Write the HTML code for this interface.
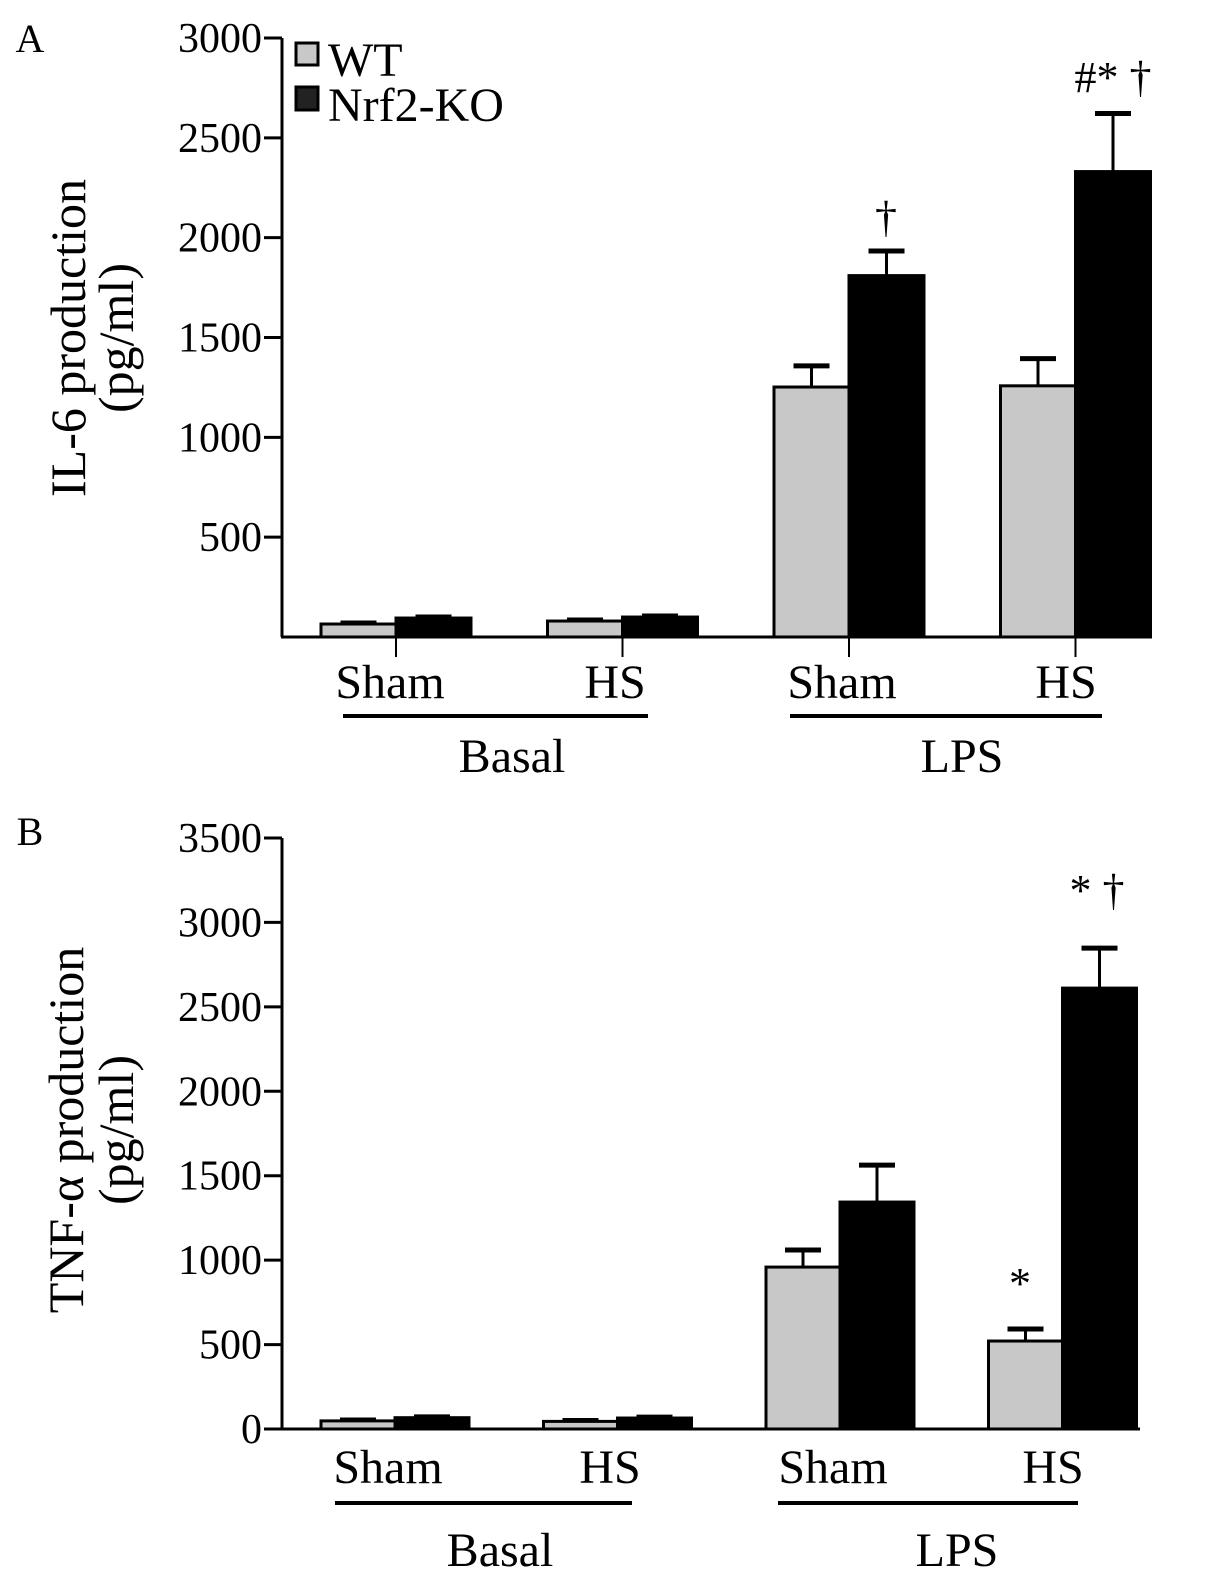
<!DOCTYPE html>
<html><head><meta charset="utf-8"><style>
body{margin:0;background:#fff;}
svg, svg text{font-family:"Liberation Serif","Times New Roman",Times,serif;}
svg text{fill:#000;}
</style></head><body>
<svg id="fig" width="1205" height="1572" viewBox="0 0 1205 1572" xmlns="http://www.w3.org/2000/svg" font-family="Liberation Serif, Times New Roman, serif">
<g id="A"></g>
<g id="B"></g>
</svg>
<script>
const groups = ["Basal Sham","Basal HS","LPS Sham","LPS HS"];
const ticksA = [500,1000,1500,2000,2500,3000];
const wtA = [65,80,1252,1258];
const wtErrA = [5,5,106,136];
const koA = [95,100,1810,2331];
const koErrA = [5,5,123,291];
const ticksB = [0,500,1000,1500,2000,2500,3000,3500];
const wtB = [48,45,959,521];
const wtErrB = [5,5,101,71];
const koB = [67,65,1344,2611];
const koErrB = [5,5,219,237];

const NS="http://www.w3.org/2000/svg";
function mk(parent,tag,attrs,txt){const e=document.createElementNS(NS,tag);for(const k in attrs)e.setAttribute(k,attrs[k]);if(tag==='text')e.setAttribute('font-family','Liberation Serif, Times New Roman, serif');if(txt!==undefined)e.textContent=txt;parent.appendChild(e);return e;}

function panel(g,cfg){
  const y=v=>cfg.y0-(v/cfg.ymax)*(cfg.y0-cfg.ytop);
  const ax=cfg.axisX;
  let e=mk(g,'line',{x1:ax,y1:cfg.ytop,x2:ax,y2:cfg.y0,stroke:'#000','stroke-width':3});
  
  
  e=mk(g,'line',{x1:ax-1,y1:cfg.y0,x2:cfg.xEnd,y2:cfg.y0,stroke:'#000','stroke-width':3});
  
  
  cfg.ticks.forEach(t=>{
    let l=mk(g,'line',{x1:ax-18,y1:y(t),x2:ax,y2:y(t),stroke:'#000','stroke-width':3});
    
    
    let tx=mk(g,'text',{x:ax-20,y:y(t)+14,'font-size':42,'text-anchor':'end'},String(t));
    
    
  });
  groups.forEach((gname,i)=>{
    const x0=cfg.gx0+i*cfg.gstep;
    const w=cfg.bw;
    [[cfg.wt,cfg.wtErr,'#c8c8c8',x0],[cfg.ko,cfg.koErr,'#000',x0+w]].forEach(([vals,errs,fill,bx],s)=>{
      const top=y(vals[i]);
      const cx=bx+w/2;
      let el=mk(g,'line',{x1:cx,y1:top,x2:cx,y2:y(vals[i]+errs[i]),stroke:'#000','stroke-width':3});
      
      
      el=mk(g,'line',{x1:cx-18,y1:y(vals[i]+errs[i]),x2:cx+18,y2:y(vals[i]+errs[i]),stroke:'#000','stroke-width':5});
      
      
      el=mk(g,'rect',{x:bx,y:top,width:w,height:cfg.y0-top,fill:fill,stroke:'#000','stroke-width':3});
      
      
    });
    if(cfg.xticks){
      let t=mk(g,'line',{x1:x0+w,y1:cfg.y0,x2:x0+w,y2:cfg.y0+20,stroke:'#000','stroke-width':2});
      
      
    }
  });
}

const A=document.getElementById('A'), B=document.getElementById('B');
panel(A,{y0:637,ytop:38,ymax:3000,axisX:282,xEnd:1152,ticks:ticksA,wt:wtA,wtErr:wtErrA,ko:koA,koErr:koErrA,gx0:321,gstep:226.5,bw:75,xticks:true});
panel(B,{y0:1429,ytop:838,ymax:3500,axisX:282,xEnd:1140,ticks:ticksB,wt:wtB,wtErr:wtErrB,ko:koB,koErr:koErrB,gx0:321,gstep:222.5,bw:74,xticks:false});

function T(g,x,y,s,txt,name,extra){const e=mk(g,'text',Object.assign({x:x,y:y,'font-size':s,'text-anchor':'middle'},extra||{}),txt);return e;}
function L(g,x1,x2,y,name){const e=mk(g,'line',{x1:x1,y1:y,x2:x2,y2:y,stroke:'#000','stroke-width':4});}

T(A,30,52,40,'A','panel-label-a');
T(B,30,845,40,'B','panel-label-b');
let r=mk(A,'rect',{x:296,y:43,width:22,height:22,fill:'#c8c8c8',stroke:'#000','stroke-width':3});


r=mk(A,'rect',{x:296,y:87,width:22,height:23,fill:'#222',stroke:'#000','stroke-width':3});


T(A,328,76,48,'WT','legend-entry-wt',{'text-anchor':'start'});
T(A,328,121,48,'Nrf2-KO','legend-entry-ko',{'text-anchor':'start'});
T(A,85,338,50,'IL-6 production','y-axis-title-a',{transform:'rotate(-90 85 338)'});
T(A,133,338,50,'(pg/ml)','y-axis-unit-a',{transform:'rotate(-90 133 338)'});
T(B,83,1130,50,'TNF-α production','y-axis-title-b',{transform:'rotate(-90 83 1130)'});
T(B,133,1130,50,'(pg/ml)','y-axis-unit-b',{transform:'rotate(-90 133 1130)'});
[['Sham',390],['HS',615],['Sham',842],['HS',1066]].forEach(([t,x])=>T(A,x,698,48,t,'x-label-a'));
L(A,343,648,716,'basal-underline-a');L(A,790,1102,716,'lps-underline-a');
T(A,512,772,48,'Basal','group-label-basal-a');T(A,962,772,48,'LPS','group-label-lps-a');
[['Sham',388],['HS',610],['Sham',833],['HS',1053]].forEach(([t,x])=>T(B,x,1483,48,t,'x-label-b'));
L(B,335,632,1503,'basal-underline-b');L(B,778,1078,1503,'lps-underline-b');
T(B,500,1566,48,'Basal','group-label-basal-b');T(B,957,1566,48,'LPS','group-label-lps-b');
T(A,886,232,44,'†','sig-mark-a-sham');
T(A,1113,92,44,'#* †','sig-mark-a-hs');
T(B,1097,905,44,'* †','sig-mark-b-hs-ko');
T(B,1020,1298,44,'*','sig-mark-b-hs-wt');
</script>
</body></html>
